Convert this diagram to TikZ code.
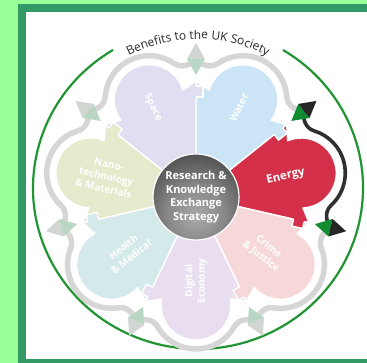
\documentclass[tikz,border=0pt]{standalone}
\usepackage{fontspec}
\setmainfont{Open Sans}
\usepackage{xcolor}
\usepackage{tikz}
\usetikzlibrary{decorations.text}

\definecolor{mintbg}{RGB}{153,255,153}
\definecolor{framegreen}{RGB}{51,153,102}
\definecolor{ringgreen}{RGB}{34,148,52}
\definecolor{rimgray}{RGB}{214,214,214}
\definecolor{bracketdark}{RGB}{48,48,48}
\definecolor{gemlight}{RGB}{186,214,196}
\definecolor{gemgray}{RGB}{210,214,210}
\definecolor{gemgreen}{RGB}{18,140,50}
\definecolor{gemblack}{RGB}{38,38,38}
\definecolor{spacecol}{RGB}{224,222,241}
\definecolor{watercol}{RGB}{203,229,246}
\definecolor{energycol}{RGB}{212,48,74}
\definecolor{crimecol}{RGB}{247,216,216}
\definecolor{digitalcol}{RGB}{232,222,240}
\definecolor{healthcol}{RGB}{212,233,233}
\definecolor{nanocol}{RGB}{229,234,204}
\definecolor{captiondark}{RGB}{40,40,40}

\pgfdeclareradialshading{hubshade}{\pgfpoint{0bp}{-12bp}}{rgb(0bp)=(0.66,0.66,0.66); rgb(16bp)=(0.54,0.54,0.54); rgb(36bp)=(0.28,0.28,0.28); rgb(52bp)=(0.16,0.16,0.16); rgb(100bp)=(0.16,0.16,0.16)}

\newcommand\ringfont{\fontsize{12}{14}\selectfont}

\begin{document}
\begin{tikzpicture}[x=1pt, y=1pt]
\tikzstyle{rimline} = [draw=rimgray, line width=5.5pt, line cap=round]
\tikzstyle{bracketline} = [draw=bracketdark, line width=3.6pt, line cap=round]
\tikzstyle{petalbody} = [draw=white, line width=1.4pt, line join=round]
\tikzstyle{petallabel} = [text=white, font=\bfseries\fontsize{10}{12.5}\selectfont, align=center, inner sep=0pt]

\useasboundingbox (0,0) rectangle (367,363);
\fill[mintbg] (0,0) rectangle (367,363);
\fill[framegreen] (18,0) rectangle (367,359);
\fill[white] (26,4) rectangle (367,351);

% outer ring with its caption
\draw[ringgreen, line width=2.2pt] (198,175) ++(121:165pt and 161pt) arc[start angle=121, end angle=419, x radius=165pt, y radius=161pt];
\path[decorate, decoration={text along path, text align=center, text={|\ringfont\color{captiondark}|Benefits to the UK Society}}] (198,175) ++(120:149pt) arc[start angle=120, end angle=60, radius=149pt];

\begin{scope}[shift={(196,166)}]
% scalloped rim round the faded themes
\foreach \ang in {64.286,-38.571,-90,-141.429,167.143,115.714}
  \draw[rimline, rotate=\ang] (124.3,-59.9) .. controls (121.2,-51.4) and (122.2,-42.6) .. (130,-38.1) arc[start angle=-60, end angle=60, radius=44pt] .. controls (122.2,42.6) and (121.2,51.4) .. (124.3,59.9);
% energy gets the dark bracket
\draw[bracketline, rotate=12.857] (124.3,-59.9) .. controls (121.2,-51.4) and (122.2,-42.6) .. (130,-38.1) arc[start angle=-60, end angle=60, radius=44pt] .. controls (122.2,42.6) and (121.2,51.4) .. (124.3,59.9);

% petals
\foreach \ang/\col in {64.286/watercol, 12.857/energycol, -38.571/crimecol, -90/digitalcol, -141.429/healthcol, 167.143/nanocol, 115.714/spacecol}
  \filldraw[petalbody, fill=\col, rotate=\ang] (0,0) -- (-25.714:116) -- (101.9,-34.5) arc[start angle=-100, end angle=100, radius=35pt] -- (25.714:116) -- cycle;

% tabs on the clockwise side of each petal
\foreach \ang/\col in {64.286/watercol, -38.571/crimecol, -90/digitalcol, -141.429/healthcol, 167.143/nanocol, 115.714/spacecol, 12.857/energycol} {
  \begin{scope}[rotate=\ang-25.714]
    \fill[\col] (100,-7) rectangle (111,1.5);
    \draw[white, line width=1.4pt] (100,0) -- (100,-7) -- (111,-7) -- (111,0);
  \end{scope}
}

% diamonds between the petals
\foreach \bnd/\inner/\outer in {90/gemlight/gemgray, 38.571/gemgreen/gemblack, -12.857/gemgreen/gemblack, -64.286/gemlight/gemgray, -115.714/gemlight/gemgray, -167.143/gemlight/gemgray, 141.429/gemlight/gemgray} {
  \fill[\inner, rotate=\bnd] (122,0) -- (138,9) -- (138,-9) -- cycle;
  \fill[\outer, rotate=\bnd] (138,9) -- (154,0) -- (138,-9) -- cycle;
}

% hub
\node (hub) [circle, minimum size=86pt, inner sep=0pt, shading=hubshade, draw=white, line width=1.2pt, text=white, align=center, font=\bfseries\fontsize{11}{13.5}\selectfont] at (0,0) {Research \&\\Knowledge\\Exchange\\Strategy};

% theme labels
\foreach \nm/\ang/\rad/\rot/\txt in {water/64.286/99/64.286/Water, crime/-38.571/88/-38.571/{Crime\\\& Justice}, digital/-90/84/90/{Digital\\Economy}, health/-141.429/88/38.571/{Health\\\& Medical}, nano/167.143/92/-12.857/{Nano-\\technology\\\& Materials}, space/115.714/99/-64.286/Space}
  \node (\nm) [petallabel, rotate=\rot] at (\ang:\rad) {\txt};
\node (energy) [petallabel, rotate=12.857, font=\bfseries\fontsize{11.5}{13}\selectfont] at (12.857:92) {Energy};
\end{scope}
\end{tikzpicture}
\end{document}
